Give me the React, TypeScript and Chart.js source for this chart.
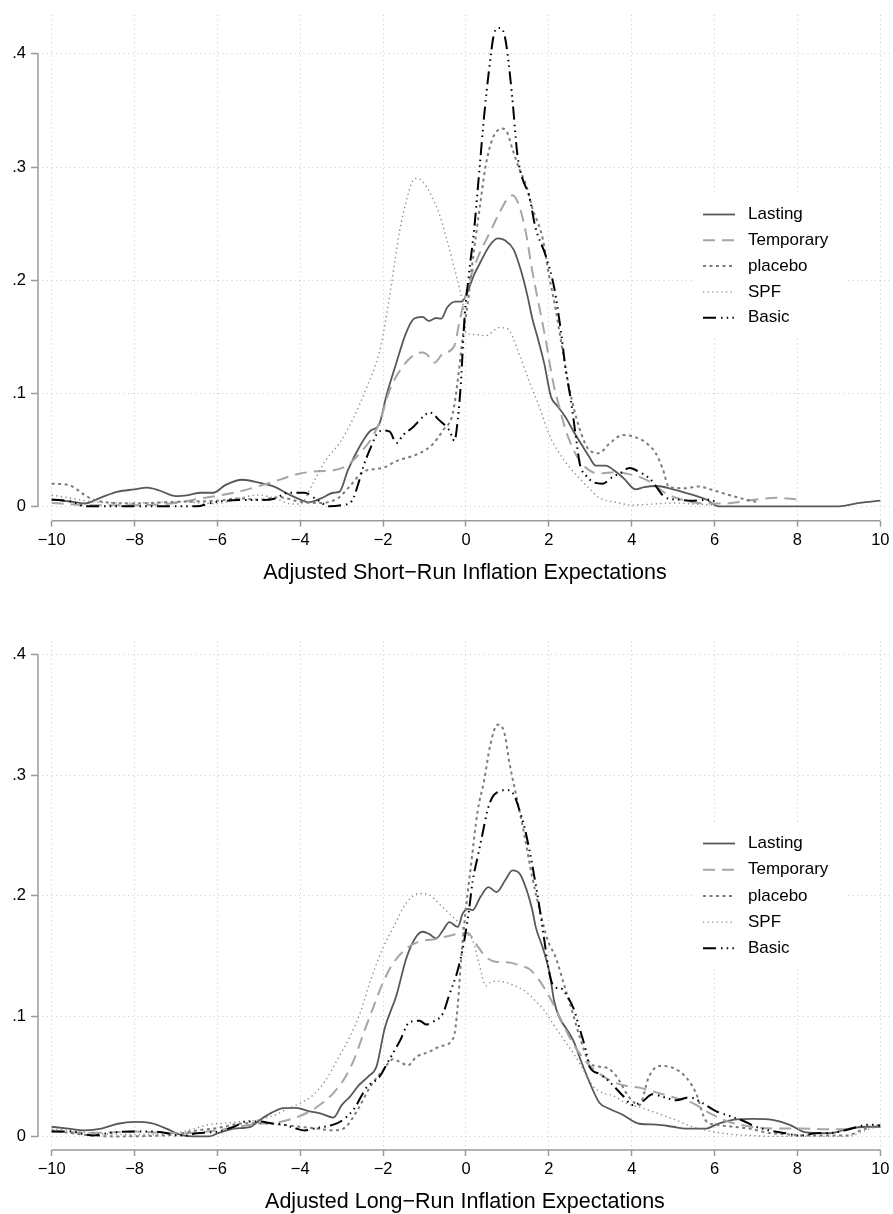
import React, { useEffect, useRef } from 'react';
import { Chart, registerables } from 'chart.js';

Chart.register(...registerables);

// ---------- data ----------
const seriesNames = ['Lasting', 'Temporary', 'placebo', 'SPF', 'Basic'];
const xTickValues = [-10, -8, -6, -4, -2, 0, 2, 4, 6, 8, 10];
const xTickLabels = ['−10', '−8', '−6', '−4', '−2', '0', '2', '4', '6', '8', '10'];
const yTickValues = [0, 0.1, 0.2, 0.3, 0.4];
const yTickLabels = ['0', '.1', '.2', '.3', '.4'];
const shortTitle = 'Adjusted Short−Run Inflation Expectations';
const longTitle = 'Adjusted Long−Run Inflation Expectations';

type P = [number, number];

// Short-run panel
const shortLasting: P[] = [
  [-10, 0.006], [-9.6, 0.0045], [-9.2, 0.0025], [-8.8, 0.008], [-8.4, 0.013], [-8.0, 0.015], [-7.7, 0.0165],
  [-7.4, 0.014], [-7.0, 0.009], [-6.7, 0.01], [-6.4, 0.012], [-6.1, 0.012], [-5.8, 0.019], [-5.4, 0.0235],
  [-5.0, 0.021], [-4.6, 0.017], [-4.3, 0.011], [-4.0, 0.006], [-3.8, 0.0035], [-3.5, 0.007], [-3.2, 0.012],
  [-3.05, 0.013], [-2.85, 0.032], [-2.55, 0.054], [-2.3, 0.067], [-2.1, 0.072], [-1.92, 0.098], [-1.68, 0.127],
  [-1.45, 0.153], [-1.25, 0.166], [-1.05, 0.1675], [-0.9, 0.164], [-0.72, 0.1665], [-0.6, 0.166], [-0.45, 0.176],
  [-0.26, 0.181], [-0.1, 0.181], [0.05, 0.191], [0.2, 0.205], [0.35, 0.216], [0.56, 0.23], [0.76, 0.237],
  [0.95, 0.235], [1.15, 0.227], [1.33, 0.208], [1.49, 0.185], [1.6, 0.166], [1.73, 0.149], [1.89, 0.126],
  [2.05, 0.097], [2.2, 0.089], [2.4, 0.079], [2.6, 0.066], [2.8, 0.054], [2.97, 0.044], [3.13, 0.036],
  [3.37, 0.036], [3.6, 0.031], [3.8, 0.025], [4.1, 0.015], [4.3, 0.017], [4.6, 0.018], [5.0, 0.015],
  [5.3, 0.012], [5.8, 0.006], [6.1, 0], [9.0, 0], [9.5, 0.003], [10, 0.005],
];
const shortTemporary: P[] = [
  [-10, 0.003], [-9, 0.001], [-8, 0.001], [-7, 0.003], [-6.4, 0.007], [-5.6, 0.012], [-4.8, 0.02],
  [-4.0, 0.029], [-3.6, 0.031], [-3.2, 0.032], [-2.88, 0.036], [-2.56, 0.047], [-2.3, 0.059], [-2.08, 0.075],
  [-1.84, 0.103], [-1.52, 0.124], [-1.2, 0.135], [-1.04, 0.136], [-0.88, 0.132], [-0.76, 0.127], [-0.56, 0.135],
  [-0.28, 0.142], [-0.16, 0.163], [0, 0.188], [0.16, 0.208], [0.32, 0.223], [0.56, 0.241], [0.8, 0.259],
  [1.0, 0.272], [1.12, 0.275], [1.29, 0.265], [1.45, 0.241], [1.6, 0.208], [1.77, 0.176], [1.93, 0.146],
  [2.09, 0.112], [2.25, 0.088], [2.41, 0.067], [2.57, 0.052], [2.73, 0.041], [2.97, 0.032], [3.2, 0.029],
  [3.5, 0.03], [3.85, 0.029], [4.18, 0.026], [4.42, 0.022], [4.8, 0.012], [5.2, 0.006], [5.6, 0.003],
  [6.0, 0.0025], [6.4, 0.003], [7.0, 0.006], [7.5, 0.0075], [8.0, 0.006],
];
const shortPlacebo: P[] = [
  [-10, 0.02], [-9.6, 0.019], [-9.2, 0.01], [-9.0, 0.006], [-8.5, 0.003], [-8, 0.0025], [-7, 0.004],
  [-6, 0.005], [-5.5, 0.007], [-5.0, 0.006], [-4.5, 0.008], [-4.0, 0.004], [-3.5, 0.003], [-3.1, 0.007],
  [-2.8, 0.018], [-2.5, 0.03], [-2.2, 0.033], [-2.0, 0.034], [-1.68, 0.04], [-1.12, 0.047], [-0.8, 0.055],
  [-0.56, 0.067], [-0.32, 0.082], [-0.2, 0.111], [-0.08, 0.149], [0.04, 0.179], [0.16, 0.217], [0.32, 0.261],
  [0.48, 0.302], [0.64, 0.325], [0.88, 0.334], [1.0, 0.33], [1.12, 0.316], [1.28, 0.299], [1.45, 0.284],
  [1.6, 0.264], [1.85, 0.237], [2.0, 0.205], [2.17, 0.173], [2.33, 0.138], [2.49, 0.105], [2.73, 0.07],
  [2.97, 0.05], [3.21, 0.047], [3.45, 0.055], [3.78, 0.063], [4.1, 0.061], [4.35, 0.056], [4.58, 0.047],
  [4.75, 0.033], [4.9, 0.017], [5.3, 0.016], [5.6, 0.0175], [6.03, 0.0135], [6.35, 0.01], [6.76, 0.006],
  [7.0, 0.004],
];
const shortSPF: P[] = [
  [-10, 0.01], [-9.5, 0.007], [-9, 0.004], [-8, 0.003], [-7, 0.004], [-6, 0.0025], [-5.5, 0.007],
  [-5.0, 0.01], [-4.6, 0.007], [-4.2, 0.002], [-4.0, 0.002], [-3.7, 0.02], [-3.4, 0.04], [-3.05, 0.056],
  [-2.72, 0.078], [-2.41, 0.104], [-2.1, 0.135], [-2.0, 0.152], [-1.8, 0.196], [-1.6, 0.244], [-1.44, 0.27],
  [-1.3, 0.287], [-1.2, 0.29], [-1.04, 0.287], [-0.8, 0.272], [-0.64, 0.258], [-0.48, 0.238], [-0.32, 0.216],
  [-0.16, 0.193], [-0.04, 0.17], [0.0, 0.153], [0.16, 0.152], [0.48, 0.151], [0.8, 0.158], [1.0, 0.157],
  [1.28, 0.135], [1.52, 0.111], [1.77, 0.088], [2.0, 0.064], [2.25, 0.047], [2.49, 0.035], [2.73, 0.025],
  [2.97, 0.016], [3.2, 0.008], [3.7, 0.003], [4.0, 0.001], [4.5, 0.002], [5.0, 0.003], [5.5, 0.002],
  [6.0, 0.001],
];
const shortBasic: P[] = [
  [-10, 0.006], [-9.5, 0.004], [-9.2, 0], [-7.0, 0], [-6.5, 0], [-6.2, 0.0025], [-6.0, 0.004],
  [-5.5, 0.0055], [-4.9, 0.0055], [-4.6, 0.007], [-4.3, 0.012], [-3.9, 0.012], [-3.6, 0.006], [-3.3, 0],
  [-3.0, 0.001], [-2.75, 0.005], [-2.6, 0.02], [-2.48, 0.035], [-2.3, 0.052], [-2.15, 0.064], [-2.0, 0.067],
  [-1.84, 0.066], [-1.68, 0.056], [-1.52, 0.063], [-1.28, 0.07], [-1.04, 0.079], [-0.88, 0.083], [-0.64, 0.076],
  [-0.4, 0.067], [-0.28, 0.058], [-0.2, 0.076], [-0.12, 0.111], [-0.04, 0.164], [0.08, 0.208], [0.2, 0.246],
  [0.32, 0.296], [0.44, 0.346], [0.56, 0.387], [0.68, 0.418], [0.8, 0.423], [0.92, 0.418], [1.0, 0.401],
  [1.12, 0.36], [1.24, 0.311], [1.36, 0.29], [1.52, 0.275], [1.68, 0.246], [1.93, 0.221], [2.13, 0.193],
  [2.29, 0.155], [2.41, 0.12], [2.53, 0.094], [2.65, 0.062], [2.75, 0.037], [2.9, 0.027], [3.1, 0.021],
  [3.3, 0.02], [3.5, 0.025], [3.75, 0.03], [3.95, 0.034], [4.2, 0.03], [4.45, 0.024], [4.6, 0.017],
  [4.8, 0.008], [5.1, 0.006], [5.5, 0.005], [5.9, 0.006], [6.05, 0.003],
];

// Long-run panel
const longLasting: P[] = [
  [-10, 0.008], [-9.6, 0.0065], [-9.2, 0.005], [-8.8, 0.0065], [-8.4, 0.0105], [-8.0, 0.012], [-7.6, 0.011],
  [-7.2, 0.006], [-6.9, 0.0015], [-6.6, 0], [-6.2, 0], [-6.0, 0.0025], [-5.6, 0.0065], [-5.2, 0.008],
  [-5.0, 0.013], [-4.7, 0.0195], [-4.4, 0.0235], [-4.1, 0.0237], [-3.8, 0.021], [-3.5, 0.019], [-3.2, 0.0156],
  [-3.0, 0.026], [-2.8, 0.033], [-2.6, 0.042], [-2.35, 0.05], [-2.16, 0.058], [-1.96, 0.09], [-1.68, 0.117],
  [-1.44, 0.148], [-1.2, 0.166], [-1.04, 0.17], [-0.88, 0.168], [-0.72, 0.1645], [-0.56, 0.171], [-0.4, 0.178],
  [-0.2, 0.174], [-0.08, 0.185], [0.04, 0.189], [0.16, 0.188], [0.35, 0.199], [0.54, 0.207], [0.74, 0.203],
  [0.95, 0.213], [1.12, 0.221], [1.3, 0.218], [1.47, 0.204], [1.6, 0.188], [1.69, 0.173], [1.85, 0.157],
  [2.01, 0.137], [2.13, 0.112], [2.25, 0.099], [2.45, 0.088], [2.6, 0.079], [2.75, 0.065], [2.98, 0.045],
  [3.22, 0.028], [3.46, 0.023], [3.78, 0.018], [4.18, 0.0105], [4.6, 0.0098], [5.0, 0.008], [5.3, 0.0065],
  [5.8, 0.0065], [6.03, 0.0098], [6.44, 0.0137], [6.92, 0.0146], [7.4, 0.0137], [7.8, 0.0098], [8.2, 0.0033],
  [8.77, 0.0026], [9.25, 0.0065], [9.65, 0.008], [10, 0.008],
];
const longTemporary: P[] = [
  [-10, 0.004], [-9, 0.003], [-8, 0.004], [-7, 0.0026], [-6, 0.005], [-5.5, 0.008], [-5.0, 0.0104],
  [-4.5, 0.012], [-4.0, 0.017], [-3.6, 0.0244], [-3.2, 0.036], [-2.9, 0.05], [-2.7, 0.064], [-2.48, 0.085],
  [-2.24, 0.107], [-2.0, 0.128], [-1.76, 0.1437], [-1.44, 0.156], [-1.12, 0.162], [-0.8, 0.1635], [-0.48, 0.166],
  [-0.16, 0.1685], [0.04, 0.169], [0.24, 0.16], [0.48, 0.149], [0.72, 0.145], [1.04, 0.1445], [1.3, 0.142],
  [1.53, 0.139], [1.72, 0.132], [1.93, 0.121], [2.09, 0.111], [2.25, 0.1], [2.57, 0.078], [2.9, 0.062],
  [3.22, 0.052], [3.54, 0.0455], [3.86, 0.042], [4.18, 0.0405], [4.5, 0.0374], [5.0, 0.0325], [5.47, 0.0276],
  [5.87, 0.0195], [6.27, 0.013], [6.6, 0.0098], [7.08, 0.0072], [7.56, 0.0065], [8.05, 0.0065], [8.6, 0.006],
  [9.3, 0.006],
];
const longPlacebo: P[] = [
  [-10, 0.005], [-9.5, 0.0026], [-9, 0.0007], [-8.5, 0], [-7.5, 0.0005], [-7, 0.0016], [-6.5, 0.005],
  [-6, 0.007], [-5.5, 0.0104], [-5, 0.011], [-4.5, 0.0098], [-4, 0.008], [-3.6, 0.0065], [-3.2, 0.005],
  [-2.9, 0.008], [-2.6, 0.023], [-2.3, 0.042], [-2.0, 0.055], [-1.76, 0.064], [-1.6, 0.062], [-1.4, 0.059],
  [-1.2, 0.066], [-0.9, 0.07], [-0.6, 0.075], [-0.3, 0.082], [-0.2, 0.108], [-0.12, 0.146], [0.0, 0.19],
  [0.12, 0.225], [0.28, 0.27], [0.44, 0.296], [0.58, 0.324], [0.76, 0.342], [0.92, 0.336], [1.05, 0.31],
  [1.2, 0.285], [1.4, 0.252], [1.6, 0.215], [1.8, 0.185], [1.98, 0.162], [2.15, 0.15], [2.35, 0.128],
  [2.57, 0.103], [2.75, 0.082], [2.97, 0.062], [3.2, 0.058], [3.4, 0.057], [3.62, 0.0504], [3.94, 0.0325],
  [4.18, 0.026], [4.42, 0.05], [4.67, 0.0585], [4.99, 0.057], [5.31, 0.049], [5.55, 0.036], [5.79, 0.013],
  [6.03, 0.0098], [6.44, 0.008], [6.84, 0.0065], [7.24, 0.0033], [7.8, 0.0016], [8.2, 0.0007], [9.17, 0.0007],
  [9.6, 0.006], [10, 0.0098],
];
const longSPF: P[] = [
  [-10, 0.006], [-9.5, 0.005], [-9, 0.0026], [-8, 0.0016], [-7.5, 0.0016], [-7, 0.003], [-6.6, 0.006],
  [-6.2, 0.0098], [-5.8, 0.011], [-5.4, 0.0124], [-5, 0.0137], [-4.6, 0.018], [-4.3, 0.023], [-4, 0.0276],
  [-3.7, 0.034], [-3.4, 0.046], [-3.1, 0.064], [-2.8, 0.083], [-2.56, 0.102], [-2.3, 0.13], [-2.0, 0.157],
  [-1.76, 0.173], [-1.44, 0.194], [-1.12, 0.2018], [-0.88, 0.2004], [-0.64, 0.193], [-0.4, 0.185], [-0.16, 0.177],
  [0, 0.169], [0.16, 0.163], [0.32, 0.143], [0.48, 0.125], [0.6, 0.128], [0.8, 0.129], [1.12, 0.126],
  [1.45, 0.12], [1.69, 0.112], [1.93, 0.103], [2.09, 0.094], [2.41, 0.078], [2.65, 0.066], [2.82, 0.056],
  [3.06, 0.042], [3.3, 0.036], [3.54, 0.034], [3.86, 0.0276], [4.18, 0.0244], [4.59, 0.0195], [4.99, 0.0146],
  [5.47, 0.008], [5.95, 0.004], [6.44, 0.0016], [6.92, 0.0007], [7.4, 0], [9.17, 0], [9.73, 0.006],
  [10, 0.009],
];
const longBasic: P[] = [
  [-10, 0.004], [-9.5, 0.004], [-9.2, 0.0016], [-9, 0.0007], [-8.6, 0.003], [-8, 0.004], [-7.5, 0.004],
  [-7.2, 0.0026], [-7.0, 0.0007], [-6.8, 0.0007], [-6.5, 0.0026], [-6.0, 0.004], [-5.6, 0.008], [-5.3, 0.0124],
  [-5.0, 0.0124], [-4.7, 0.011], [-4.4, 0.0098], [-4.1, 0.0065], [-3.9, 0.005], [-3.6, 0.007], [-3.2, 0.0098],
  [-3.0, 0.013], [-2.7, 0.023], [-2.4, 0.0407], [-2.1, 0.049], [-1.88, 0.062], [-1.6, 0.079], [-1.36, 0.095],
  [-1.12, 0.096], [-0.96, 0.093], [-0.76, 0.096], [-0.56, 0.102], [-0.4, 0.118], [-0.2, 0.138], [-0.04, 0.163],
  [0.08, 0.19], [0.16, 0.212], [0.28, 0.232], [0.4, 0.2516], [0.52, 0.271], [0.64, 0.282], [0.76, 0.286],
  [0.88, 0.2875], [1.04, 0.2875], [1.16, 0.2834], [1.29, 0.271], [1.41, 0.257], [1.53, 0.238], [1.65, 0.2156],
  [1.77, 0.191], [1.89, 0.163], [2.01, 0.136], [2.13, 0.124], [2.29, 0.123], [2.45, 0.116], [2.61, 0.105],
  [2.73, 0.091], [2.89, 0.072], [2.98, 0.058], [3.22, 0.052], [3.46, 0.0455], [3.78, 0.034], [4.02, 0.026],
  [4.26, 0.029], [4.5, 0.035], [4.83, 0.032], [5.07, 0.03], [5.39, 0.0325], [5.71, 0.0276], [6.03, 0.021],
  [6.36, 0.017], [6.68, 0.013], [7.0, 0.008], [7.32, 0.005], [7.72, 0.0026], [8.05, 0.0007], [8.45, 0.0026],
  [8.85, 0.003], [9.25, 0.006], [9.73, 0.0098], [10, 0.009],
];

// ---------- styles ----------
const FONT = '"Liberation Sans", Arial, Helvetica, sans-serif';
const seriesStyles = [
  { color: '#585858', width: 1.8, dash: [] as number[] },
  { color: '#a6a6a6', width: 2, dash: [12, 7] },
  { color: '#7c7c7c', width: 2, dash: [3, 3.5] },
  { color: '#8a8a8a', width: 1.4, dash: [1.3, 3.3] },
  { color: '#000000', width: 2, dash: [13, 5, 1.5, 4.2, 1.5, 4.2, 1.5, 4.5] },
];
const AXIS_COLOR = '#9a9a9a';
const GRID_COLOR = '#c9c9c9';

const stataAxes = {
  id: 'stataAxes',
  beforeDatasetsDraw(chart: any) {
    const { ctx, chartArea, scales } = chart;
    ctx.save();
    ctx.strokeStyle = AXIS_COLOR;
    ctx.lineWidth = 1.5;
    ctx.setLineDash([]);
    const yA = scales.y.getPixelForValue(yTickValues[0]);
    const yB = scales.y.getPixelForValue(yTickValues[yTickValues.length - 1]);
    ctx.beginPath();
    ctx.moveTo(chartArea.left, yA);
    ctx.lineTo(chartArea.left, yB);
    ctx.stroke();
    const xA = scales.x.getPixelForValue(xTickValues[0]);
    const xB = scales.x.getPixelForValue(xTickValues[xTickValues.length - 1]);
    ctx.beginPath();
    ctx.moveTo(xA, chartArea.bottom);
    ctx.lineTo(xB, chartArea.bottom);
    ctx.stroke();
    ctx.restore();
  },
};

const insetLegend = {
  id: 'insetLegend',
  afterDraw(chart: any, _args: any, opts: any) {
    const { ctx } = chart;
    const n = chart.data.datasets.length;
    ctx.save();
    ctx.fillStyle = '#ffffff';
    ctx.fillRect(opts.boxLeft, opts.top - opts.padTop, opts.boxRight - opts.boxLeft, (n - 1) * opts.step + opts.padTop + opts.padBottom);
    chart.data.datasets.forEach((ds: any, i: number) => {
      const y = opts.top + i * opts.step;
      ctx.strokeStyle = ds.borderColor;
      ctx.lineWidth = ds.borderWidth;
      ctx.setLineDash(ds.borderDash || []);
      ctx.beginPath();
      ctx.moveTo(opts.x1, y);
      ctx.lineTo(opts.x2, y);
      ctx.stroke();
      ctx.setLineDash([]);
      ctx.fillStyle = '#000';
      ctx.font = `17px ${FONT}`;
      ctx.textBaseline = 'middle';
      ctx.textAlign = 'left';
      ctx.fillText(ds.label, opts.textX, y);
    });
    ctx.restore();
  },
};

type PanelProps = {
  series: P[][];
  title: string;
  canvasH: number;
  padTop: number;
  xAxisH: number;
  yMin: number;
  yMax: number;
  titlePadBottom: number;
  legendTop: number;
  legendStep: number;
};

function Panel(props: PanelProps) {
  const ref = useRef<HTMLCanvasElement | null>(null);
  useEffect(() => {
    if (!ref.current) return;
    const datasets = props.series.map((pts, i) => ({
      label: seriesNames[i],
      data: pts.map(([x, y]) => ({ x, y })),
      borderColor: seriesStyles[i].color,
      borderWidth: seriesStyles[i].width,
      borderDash: seriesStyles[i].dash,
      pointRadius: 0,
      fill: false,
      cubicInterpolationMode: 'monotone' as const,
      order: props.series.length - 1 - i,
    }));
    const chart = new Chart(ref.current, {
      type: 'line',
      data: { datasets },
      plugins: [stataAxes, insetLegend],
      options: {
        animation: false,
        responsive: false,
        maintainAspectRatio: false,
        events: [],
        layout: { padding: { top: props.padTop, right: 0, left: 0, bottom: 0 } },
        plugins: {
          legend: { display: false },
          tooltip: { enabled: false },
          insetLegend: {
            top: props.legendTop,
            step: props.legendStep,
            x1: 703,
            x2: 735,
            textX: 748,
            boxLeft: 695,
            boxRight: 847,
            padTop: 20.5,
            padBottom: 20,
          },
        } as any,
        scales: {
          x: {
            type: 'linear',
            min: -10.33,
            max: 10.28,
            afterBuildTicks: (s: any) => {
              s.ticks = xTickValues.map((v) => ({ value: v }));
            },
            afterFit: (s: any) => {
              s.height = props.xAxisH;
            },
            ticks: {
              autoSkip: false,
              maxRotation: 0,
              minRotation: 0,
              padding: 3.5,
              color: '#000',
              font: { family: FONT, size: 16.5 },
              callback: (v: any) => {
                const k = xTickValues.findIndex((t) => Math.abs(t - Number(v)) < 1e-9);
                return k >= 0 ? xTickLabels[k] : '';
              },
            },
            grid: {
              color: GRID_COLOR,
              lineWidth: 1,
              drawTicks: true,
              tickLength: 6,
              tickColor: AXIS_COLOR,
              tickWidth: 1.5,
              tickBorderDash: [],
            },
            border: { display: false, dash: [1, 3.5] },
            title: {
              display: true,
              text: props.title,
              color: '#000',
              font: { family: FONT, size: 21.5, lineHeight: 1.1 },
              padding: { top: 0, bottom: props.titlePadBottom },
            },
          },
          y: {
            type: 'linear',
            min: props.yMin,
            max: props.yMax,
            afterBuildTicks: (s: any) => {
              s.ticks = yTickValues.map((v) => ({ value: v }));
            },
            afterFit: (s: any) => {
              s.width = 38;
            },
            ticks: {
              autoSkip: false,
              padding: 5,
              color: '#000',
              font: { family: FONT, size: 16.5 },
              callback: (v: any) => {
                const k = yTickValues.findIndex((t) => Math.abs(t - Number(v)) < 1e-9);
                return k >= 0 ? yTickLabels[k] : '';
              },
            },
            grid: {
              color: GRID_COLOR,
              lineWidth: 1,
              drawTicks: true,
              tickLength: 7,
              tickColor: AXIS_COLOR,
              tickWidth: 1.5,
              tickBorderDash: [],
            },
            border: { display: false, dash: [1, 3.5] },
          },
        },
      } as any,
    });
    return () => chart.destroy();
  }, []);
  return (
    <canvas
      ref={ref}
      width={893}
      height={props.canvasH}
      style={{ display: 'block', width: 893, height: props.canvasH }}
    />
  );
}

export default function App() {
  return (
    <div style={{ position: 'absolute', left: 0, top: 0, width: 893, height: 1214, background: '#fff' }}>
      <Panel
        series={[shortLasting, shortTemporary, shortPlacebo, shortSPF, shortBasic]}
        title={shortTitle}
        canvasH={600}
        padTop={12.5}
        xAxisH={79.3}
        yMin={-0.0127}
        yMax={0.4345}
        titlePadBottom={15.2}
        legendTop={214.5}
        legendStep={25.8}
      />
      <Panel
        series={[longLasting, longTemporary, longPlacebo, longSPF, longBasic]}
        title={longTitle}
        canvasH={614}
        padTop={41}
        xAxisH={64}
        yMin={-0.0113}
        yMax={0.4115}
        titlePadBottom={0}
        legendTop={243.5}
        legendStep={26.2}
      />
    </div>
  );
}
